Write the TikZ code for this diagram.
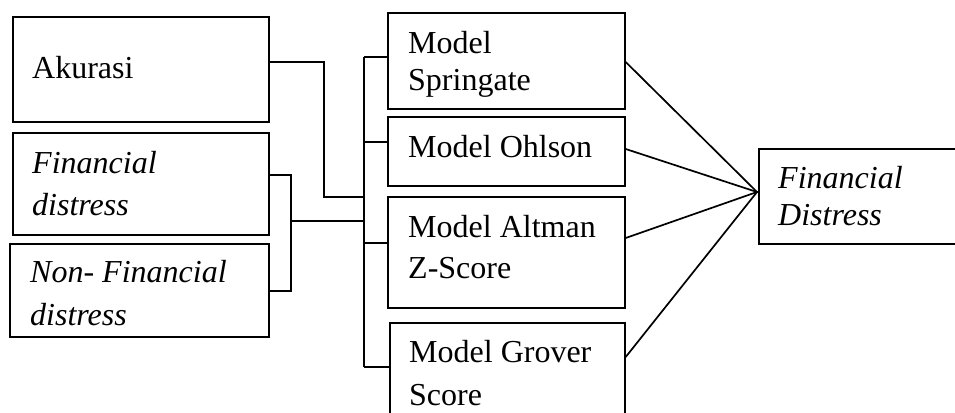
\documentclass[tikz,border=0pt]{standalone}
\usepackage{fontspec}
\setmainfont{Liberation Serif}
\begin{document}
\begin{tikzpicture}[x=1pt,y=-1pt,
  box/.style={draw,line width=1.7pt,inner sep=0pt,anchor=north west},
  wire/.style={line width=1.7pt},
  lbl/.style={anchor=base west,inner sep=0pt,font=\fontsize{32}{40}\selectfont},
  ilbl/.style={lbl,font=\fontsize{32}{40}\selectfont\itshape}]
\useasboundingbox (0,0) rectangle (955,412);
\clip (0,0) rectangle (955,412);

% left-hand boxes
\node[box,minimum width=256pt,minimum height=105pt] (akurasi) at (12,16) {};
\node[box,minimum width=256pt,minimum height=102pt] (fd) at (12,132) {};
\node[box,minimum width=259pt,minimum height=93pt] (nfd) at (9,243) {};

% model boxes
\node[box,minimum width=237pt,minimum height=96pt] (spr) at (387,12) {};
\node[box,minimum width=237pt,minimum height=69pt] (ohl) at (387,116) {};
\node[box,minimum width=237pt,minimum height=111pt] (alt) at (387,196) {};
\node[box,minimum width=235pt,minimum height=110pt] (gro) at (389,322) {};

% outcome box
\node[box,minimum width=210pt,minimum height=95pt] (out) at (758,148) {};

% labels
\node[lbl] (t-ak) at (32,78) {Akurasi};
\node[ilbl] (t-fd1) at (32,173) {Financial};
\node[ilbl] (t-fd2) at (32,215) {distress};
\node[ilbl] (t-nfd1) at (30,282) {Non- Financial};
\node[ilbl] (t-nfd2) at (30,325) {distress};
\node[lbl] (t-spr1) at (408,53) {Model};
\node[lbl] (t-spr2) at (408,90) {Springate};
\node[lbl] (t-ohl) at (408,157) {Model Ohlson};
\node[lbl] (t-alt1) at (408,237) {Model Altman};
\node[lbl] (t-alt2) at (408,278) {Z-Score};
\node[lbl] (t-gro1) at (409,362) {Model Grover};
\node[lbl] (t-gro2) at (409,405) {Score};
\node[ilbl] (t-out1) at (778,188) {Financial};
\node[ilbl] (t-out2) at (778,225) {Distress};

% junction points
\coordinate (akbend) at (324,62);
\coordinate (akjoin) at (364,197);
\coordinate (fdbar) at (291,175);
\coordinate (fdmid) at (291,221);
\coordinate (fdjoin) at (364,221);
\coordinate (spine-top) at (364,57);
\coordinate (spine-bot) at (364,367);
\coordinate (hub) at (757,192);

% Akurasi feed
\draw[wire] (akurasi.east |- akbend) -- (akbend) |- (akjoin);
% distress bracket
\draw[wire] (fd.east |- fdbar) -- (fdbar) -- (fdbar |- 0,291) -- (nfd.east |- 0,291);
\draw[wire] (fdmid) -- (fdjoin);
% spine and branches to the models
\draw[wire] (spine-top) -- (spine-bot);
\draw[wire] (spine-top) -- (spr.west |- spine-top);
\draw[wire] (spine-top |- 0,142) -- (ohl.west |- 0,142);
\draw[wire] (spine-top |- 0,243) -- (alt.west |- 0,243);
\draw[wire] (spine-bot) -- (gro.west |- spine-bot);

% models to outcome
\draw[wire] (spr.east |- 0,62) -- (hub);
\draw[wire] (ohl.east |- 0,149) -- (hub);
\draw[wire] (alt.east |- 0,238) -- (hub);
\draw[wire] (gro.east |- 0,357) -- (hub);
\draw[wire] (hub) -- (out.west |- hub);
\end{tikzpicture}
\end{document}
